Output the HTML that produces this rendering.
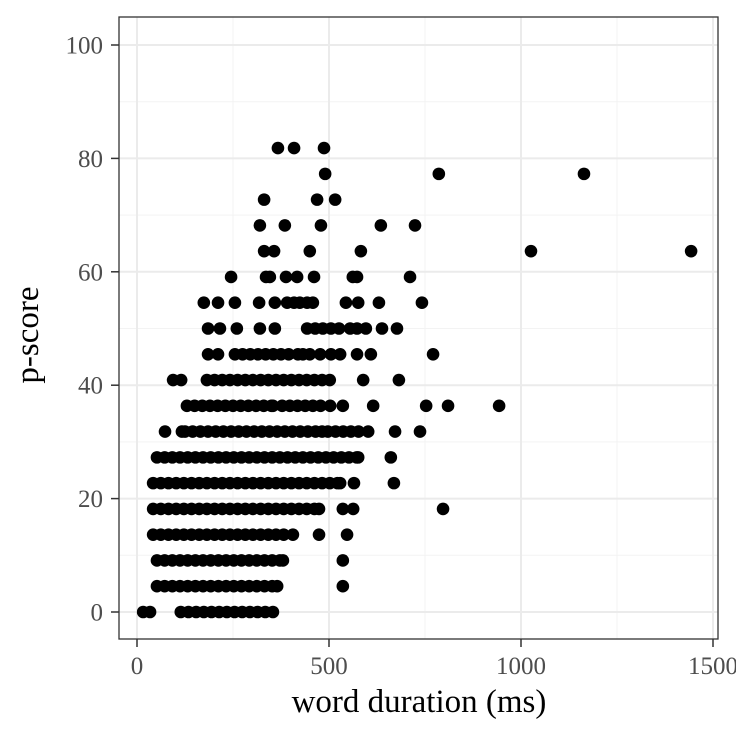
<!DOCTYPE html>
<html><head><meta charset="utf-8"><style>
html,body{margin:0;padding:0;background:#fff;}
svg{display:block;font-family:"Liberation Serif",serif;}
</style></head><body>
<svg id="chart" width="736" height="736" viewBox="0 0 736 736" xmlns="http://www.w3.org/2000/svg">
<rect width="736" height="736" fill="#fff"/>
<g id="grid"></g>
<g id="points"></g>
<rect x="119" y="17" width="599" height="622" fill="none" stroke="#333" stroke-width="1.3"/>
<g id="axes"></g>
<text x="419" y="712" text-anchor="middle" font-size="33" fill="#000">word duration (ms)</text>
<text transform="translate(38,335) rotate(-90)" text-anchor="middle" font-size="33" fill="#000">p-score</text>
</svg>
<script>
const xTicks=[0,500,1000,1500];
const yTicks=[0,20,40,60,80,100];
const pScores=[0,4.55,9.09,13.64,18.18,22.73,27.27,31.82,36.36,40.91,45.45,50,54.55,59.09,63.64,68.18,72.73,77.27,81.82];
const durations=[
[16,34,114,134,154,174,194,214,234,254,274,294,314,334,354],
[52,72,92,112,132,152,172,192,212,232,252,272,292,312,332,352,365,536],
[52,72,92,112,132,152,172,192,212,232,252,272,292,312,332,352,372,380,536],
[42,62,82,102,122,142,162,182,202,222,242,262,282,302,322,342,362,382,406,474,547],
[42,62,82,102,122,142,162,182,202,222,242,262,282,302,322,342,362,382,402,422,442,462,474,536,563,797],
[42,62,82,102,122,142,162,182,202,222,242,262,282,302,322,342,362,382,402,422,442,462,482,502,522,529,565,669],
[52,72,92,112,132,152,172,192,212,232,252,272,292,312,332,352,372,392,412,432,452,472,492,512,532,552,572,576,661],
[73,117,125,145,165,185,205,225,245,265,285,305,325,345,365,385,405,425,445,465,482,497,517,537,557,577,602,672,737],
[130,150,170,190,210,230,250,270,290,310,330,350,354,378,398,418,438,458,478,503,536,615,753,810,943],
[94,115,182,202,222,242,262,282,302,322,342,362,382,402,422,442,462,482,502,589,682],
[185,211,255,275,295,315,335,355,375,395,419,432,450,477,505,529,573,609,771],
[185,216,260,320,359,443,464,484,505,526,555,573,596,638,677],
[174,211,255,318,359,391,409,424,443,458,544,576,630,742],
[245,336,346,388,417,461,562,573,711],
[331,357,450,583,1026,1443],
[320,385,479,635,724],
[331,469,516],
[490,786,1164],
[367,409,487]
];
const NS="http://www.w3.org/2000/svg";
function xs(v){return 137+v*0.384;}
function ys(v){return 612-v*5.67;}
const grid=document.getElementById('grid');
const axes=document.getElementById('axes');
const pts=document.getElementById('points');
function mk(tag,attrs,parent){const e=document.createElementNS(NS,tag);for(const k in attrs)e.setAttribute(k,attrs[k]);parent.appendChild(e);return e;}
for(let i=0;i<xTicks.length-1;i++){const v=(xTicks[i]+xTicks[i+1])/2;
 const l=mk('line',{x1:xs(v),x2:xs(v),y1:17,y2:639,stroke:'#f3f3f3','stroke-width':1},grid);
 
 }
for(let i=0;i<yTicks.length-1;i++){const v=(yTicks[i]+yTicks[i+1])/2;
 const l=mk('line',{x1:119,x2:718,y1:ys(v),y2:ys(v),stroke:'#f3f3f3','stroke-width':1},grid);
 
 }
xTicks.forEach(v=>{
 const l=mk('line',{x1:xs(v),x2:xs(v),y1:17,y2:639,stroke:'#ebebeb','stroke-width':2},grid);
 
 
 const t=mk('line',{x1:xs(v),x2:xs(v),y1:639,y2:647,stroke:'#333','stroke-width':1.5},axes);
 
 
 const tx=mk('text',{x:xs(v),y:674,'text-anchor':'middle','font-size':25,fill:'#4d4d4d'},axes);
 tx.textContent=v;
 
 
});
yTicks.forEach(v=>{
 const l=mk('line',{x1:119,x2:718,y1:ys(v),y2:ys(v),stroke:'#ebebeb','stroke-width':2},grid);
 
 
 const t=mk('line',{x1:111,x2:119,y1:ys(v),y2:ys(v),stroke:'#333','stroke-width':1.5},axes);
 
 
 const tx=mk('text',{x:103,y:ys(v)+8.5,'text-anchor':'end','font-size':25,fill:'#4d4d4d'},axes);
 tx.textContent=v;
 
 
});
pScores.forEach((p,i)=>{
 durations[i].forEach(d=>{
  const c=mk('circle',{cx:xs(d),cy:ys(p),r:6.3,fill:'#000'},pts);
  
  
 });
});
</script>
</body></html>
